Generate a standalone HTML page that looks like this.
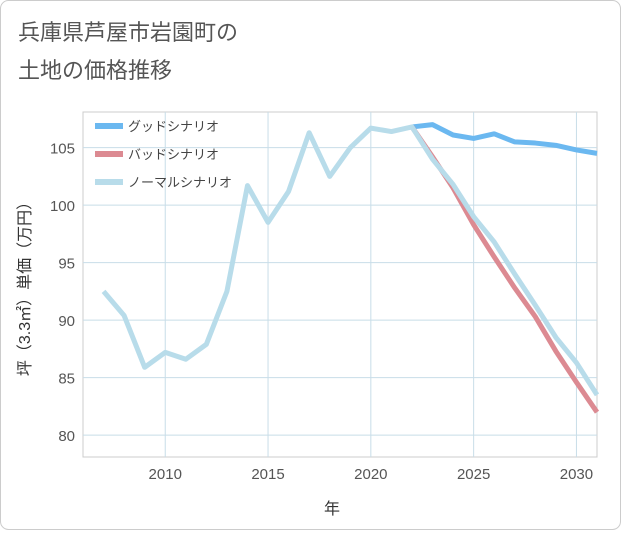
<!DOCTYPE html>
<html><head><meta charset="utf-8"><style>
body{margin:0;background:#fff;}
#wrap{position:relative;width:621px;height:530px;font-family:"Liberation Sans","Noto Sans CJK JP",sans-serif;}
</style></head><body>
<div id="wrap">
<svg id="chart" width="621" height="530">
<rect x="0.5" y="0.5" width="620" height="529" rx="8" fill="#fff" stroke="#ccc"/>
<text x="18" y="40" font-size="22" fill="#555">兵庫県芦屋市岩園町の</text>
<text x="18" y="78" font-size="22" fill="#555">土地の価格推移</text>
<g id="grid"></g>
<g id="lines"></g>
<g id="legend"></g>
<text x="332" y="514" font-size="16" fill="#333" text-anchor="middle">年</text>
<text transform="translate(30,285) rotate(-90)" font-size="16" fill="#333" text-anchor="middle">坪（3.3㎡）単価（万円）</text>
</svg>
</div>
<script>
const years=[2007,2008,2009,2010,2011,2012,2013,2014,2015,2016,2017,2018,2019,2020,2021,2022,2023,2024,2025,2026,2027,2028,2029,2030,2031];
const normalValues=[92.5,90.4,85.9,87.2,86.6,87.9,92.5,101.7,98.5,101.2,106.3,102.5,105.0,106.7,106.4,106.8,104.0,101.8,99.0,96.8,94.0,91.3,88.5,86.3,83.5];
const futureYears=[2022,2023,2024,2025,2026,2027,2028,2029,2030,2031];
const goodValues=[106.8,107.0,106.1,105.8,106.2,105.5,105.4,105.2,104.8,104.5];
const badValues=[106.8,104.2,101.5,98.3,95.5,92.8,90.3,87.3,84.6,82.0];
const xTicks=[2010,2015,2020,2025,2030];
const yTicks=[80,85,90,95,100,105];
const legendLabels=["グッドシナリオ","バッドシナリオ","ノーマルシナリオ"];
const L=83,R=597,T=112,B=457,xMin=2006,xMax=2031,yMin=78.1,yMax=108.1;
const xs=v=>L+(v-xMin)/(xMax-xMin)*(R-L);
const ys=v=>B-(v-yMin)/(yMax-yMin)*(B-T);
const NS="http://www.w3.org/2000/svg";
function mk(tag,attrs,parent){const e=document.createElementNS(NS,tag);for(const k in attrs)e.setAttribute(k,attrs[k]);parent.appendChild(e);return e;}
const grid=document.getElementById('grid');
let r=mk('rect',{x:L,y:T,width:R-L,height:B-T,fill:'none',stroke:'#ccc'},grid);


xTicks.forEach(t=>{let l=mk('line',{x1:xs(t),x2:xs(t),y1:T,y2:B,stroke:'#c8dde8'},grid);


let tx=mk('text',{x:xs(t),y:B+22,'font-size':15,fill:'#555','text-anchor':'middle'},grid);tx.textContent=t;

});
yTicks.forEach(t=>{let l=mk('line',{x1:L,x2:R,y1:ys(t),y2:ys(t),stroke:'#c8dde8'},grid);


let tx=mk('text',{x:L-8,y:ys(t)+6,'font-size':15,fill:'#555','text-anchor':'end'},grid);tx.textContent=t;

});
const lines=document.getElementById('lines');
function series(xv,yv,color,name){const d=xv.map((x,i)=>(i?'L':'M')+xs(x)+','+ys(yv[i])).join('');
const p=mk('path',{d:d,fill:'none',stroke:color,'stroke-width':5,'stroke-linejoin':'round'},lines);

}
series(futureYears,goodValues,'#6bb8f0','good-scenario-line');
series(futureYears,badValues,'#dc8a92','bad-scenario-line');
series(years,normalValues,'#b8dcea','normal-scenario-line');
const lg=document.getElementById('legend');const colors=['#6bb8f0','#dc8a92','#b8dcea'];
legendLabels.forEach((s,i)=>{const y=126+i*28;
let l=mk('line',{x1:95,x2:123,y1:y,y2:y,stroke:colors[i],'stroke-width':6},lg);


let t=mk('text',{x:128,y:y+5,'font-size':13,fill:'#444'},lg);t.textContent=s;

});
</script>
</body></html>
